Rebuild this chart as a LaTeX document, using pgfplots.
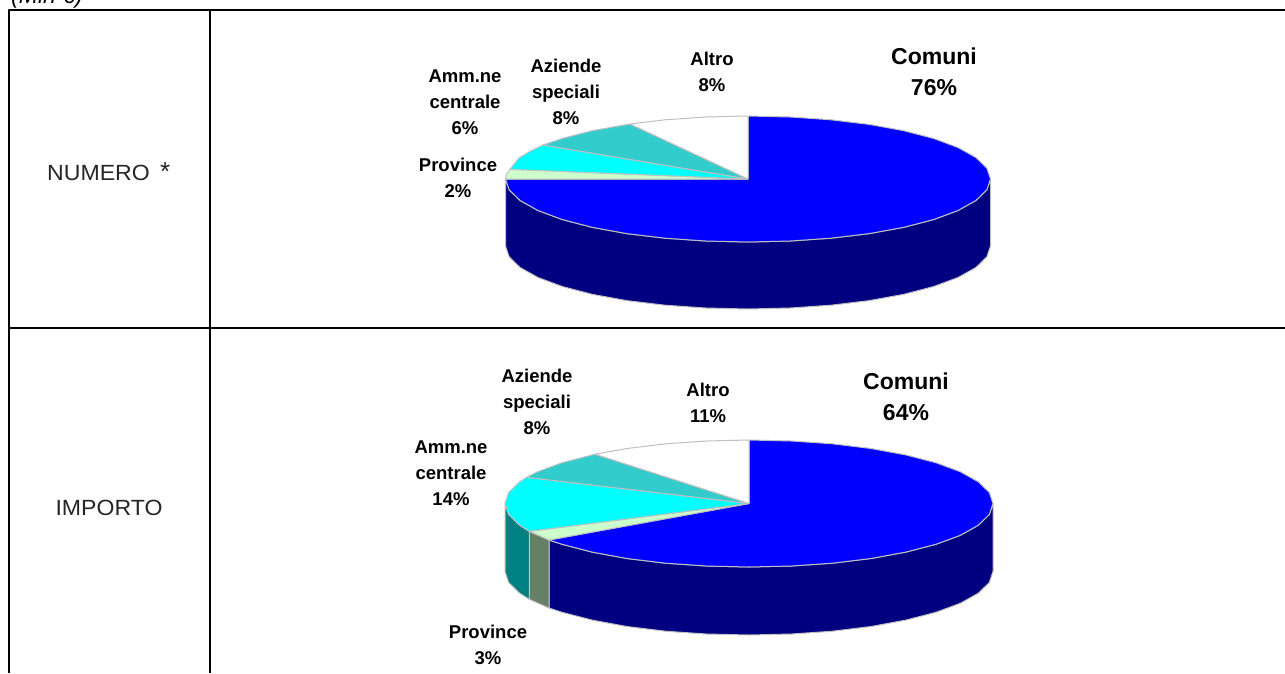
\documentclass[border=0pt]{standalone}
\usepackage{fontspec}
\setmainfont{Liberation Sans}
\usepackage{pgfplots}
\pgfplotsset{compat=1.18}
\definecolor{topblue}{HTML}{0000FF}
\definecolor{sidenavy}{HTML}{000080}
\definecolor{amm}{HTML}{00FFFF}
\definecolor{ammside}{HTML}{008080}
\definecolor{azi}{HTML}{33CCCC}
\definecolor{prov}{HTML}{CCFFCC}
\definecolor{provside}{HTML}{668066}
\definecolor{edge}{HTML}{C0C0C0}
\tikzset{
  lab/.style={align=center,inner sep=0pt,font=\fontsize{18.5}{26}\selectfont\bfseries},
  big/.style={align=center,inner sep=0pt,font=\fontsize{23}{31.5}\selectfont\bfseries},
  head/.style={inner sep=0pt,xscale=1.05,font=\fontsize{22}{24}\selectfont\color{black!85}},
}
\begin{document}
\begin{tikzpicture}
\begin{axis}[
  width=1285pt,height=673pt,scale only axis,
  xmin=0,xmax=1285,ymin=0,ymax=673,y dir=reverse,
  hide axis,clip=true,
  every axis plot/.append style={no markers,line join=round},
]
% page background
\addplot[draw=none,fill=white] coordinates {(0,0) (1285,0) (1285,673) (0,673) (0,0)};

% ---- NUMERO pie: side wall
\addplot[fill=sidenavy,draw=edge,line width=1pt] coordinates {
(990.5,179) (986.8,189.9) (975.9,200.5) (958,210.5) (933.8,219.5) (903.9,227.3) (869.3,233.6) (830.9,238.2) (790.1,241) (748,242)
(705.9,241) (665.1,238.2) (626.7,233.6) (592.1,227.3) (562.2,219.5) (538,210.5) (520.1,200.5) (509.2,189.9) (505.5,179)
(505.5,246) (509.2,256.9) (520.1,267.5) (538,277.5) (562.2,286.5) (592.1,294.3) (626.7,300.6) (665.1,305.2) (705.9,308) (748,309)
(790.1,308) (830.9,305.2) (869.3,300.6) (903.9,294.3) (933.8,286.5) (958,277.5) (975.9,267.5) (986.8,256.9) (990.5,246) (990.5,179)};
% Comuni 76%
\addplot[fill=topblue,draw=edge,line width=1pt] coordinates {
(748,179) (748,116) (790.1,117) (830.9,119.8) (869.3,124.4) (903.9,130.7) (933.8,138.5) (958,147.5) (975.9,157.5) (986.8,168.1) (990.5,179)
(986.8,189.9) (975.9,200.5) (958,210.5) (933.8,219.5) (903.9,227.3) (869.3,233.6) (830.9,238.2) (790.1,241) (748,242)
(705.9,241) (665.1,238.2) (626.7,233.6) (592.1,227.3) (562.2,219.5) (538,210.5) (520.1,200.5) (509.2,189.9) (505.5,179) (748,179)};
% Province 2%
\addplot[fill=prov,draw=edge,line width=1pt] coordinates {(748,179) (505.5,179) (506.5,174) (510,169.3) (748,179)};
% Amm.ne centrale 6%
\addplot[fill=amm,draw=edge,line width=1pt] coordinates {(748,179) (510,169.3) (519,158) (530,151.4) (543,145) (748,179)};
% Aziende speciali 8%
\addplot[fill=azi,draw=edge,line width=1pt] coordinates {(748,179) (543,145) (562.2,138.5) (592.1,130.7) (630,124) (748,179)};
% Altro 8%
\addplot[fill=white,draw=edge,line width=1pt] coordinates {(748,179) (630,124) (665.1,119.8) (705.9,117) (748,116) (748,179)};

% ---- IMPORTO pie: side walls
\addplot[fill=sidenavy,draw=edge,line width=1pt] coordinates {
(993,503.5) (989.3,514.5) (978.3,525.2) (960.3,535.3) (935.9,544.3) (905.8,552.1) (871,558.5) (832.4,563.2) (791.4,566) (749,567)
(706.6,566) (665.6,563.2) (627,558.5) (592.2,552.1) (562.1,544.3) (549,540)
(549,608) (562.1,612.3) (592.2,620.1) (627,626.5) (665.6,631.2) (706.6,634) (749,635)
(791.4,634) (832.4,631.2) (871,626.5) (905.8,620.1) (935.9,612.3) (960.3,603.3) (978.3,593.2) (989.3,582.5) (993,571.5) (993,503.5)};
\addplot[fill=provside,draw=edge,line width=1pt] coordinates {(549,540) (529.3,531.3) (529.3,599.3) (549,608) (549,540)};
\addplot[fill=ammside,draw=edge,line width=1pt] coordinates {
(529.3,531.3) (519.7,525.2) (508.7,514.5) (505,503.5) (505,571.5) (508.7,582.5) (519.7,593.2) (529.3,599.3) (529.3,531.3)};
% Comuni 64%
\addplot[fill=topblue,draw=edge,line width=1pt] coordinates {
(749,503.5) (749,440) (791.4,441) (832.4,443.8) (871,448.5) (905.8,454.9) (935.9,462.7) (960.3,471.7) (978.3,481.8) (989.3,492.5) (993,503.5)
(989.3,514.5) (978.3,525.2) (960.3,535.3) (935.9,544.3) (905.8,552.1) (871,558.5) (832.4,563.2) (791.4,566) (749,567)
(706.6,566) (665.6,563.2) (627,558.5) (592.2,552.1) (562.1,544.3) (549,540) (749,503.5)};
% Province 3%
\addplot[fill=prov,draw=edge,line width=1pt] coordinates {(749,503.5) (549,540) (529.3,531.3) (749,503.5)};
% Amm.ne centrale 14%
\addplot[fill=amm,draw=edge,line width=1pt] coordinates {
(749,503.5) (529.3,531.3) (519.7,525.2) (508.7,514.5) (505,503.5) (508.7,492.5) (519.7,481.8) (526.7,477.3) (749,503.5)};
% Aziende speciali 8%
\addplot[fill=azi,draw=edge,line width=1pt] coordinates {(749,503.5) (526.7,477.3) (537.7,471.7) (562.1,462.7) (595,454.2) (749,503.5)};
% Altro 11%
\addplot[fill=white,draw=edge,line width=1pt] coordinates {(749,503.5) (595,454.2) (627,448.5) (665.6,443.8) (706.6,441) (749,440) (749,503.5)};

% ---- table rules
\addplot[black,line width=2pt] coordinates {(9,673) (9,10) (1285,10)};
\addplot[black,line width=2pt] coordinates {(210,10) (210,673)};
\addplot[black,line width=2pt] coordinates {(9,328) (1285,328)};

% ---- text
\node[anchor=base west,inner sep=0pt,font=\fontsize{23}{26}\selectfont\itshape] at (axis cs:11,3) {(Mln €)};
\node[head,anchor=base west] at (axis cs:47,180) {NUMERO};
\node[anchor=base west,inner sep=0pt,font=\fontsize{26}{28}\selectfont\color{black!85}] at (axis cs:160,180) {*};
\node[head,anchor=base] at (axis cs:109,515) {IMPORTO};

\node[big] at (axis cs:934,72) {Comuni\\76\%};
\node[lab] at (axis cs:712,72) {Altro\\8\%};
\node[lab] at (axis cs:566,92) {Aziende\\speciali\\8\%};
\node[lab] at (axis cs:465,102) {Amm.ne\\centrale\\6\%};
\node[lab] at (axis cs:458,178) {Province\\2\%};

\node[big] at (axis cs:906,397) {Comuni\\64\%};
\node[lab] at (axis cs:708,403) {Altro\\11\%};
\node[lab] at (axis cs:537,402) {Aziende\\speciali\\8\%};
\node[lab] at (axis cs:451,473) {Amm.ne\\centrale\\14\%};
\node[lab] at (axis cs:488,645) {Province\\3\%};
\end{axis}
\end{tikzpicture}
\end{document}
